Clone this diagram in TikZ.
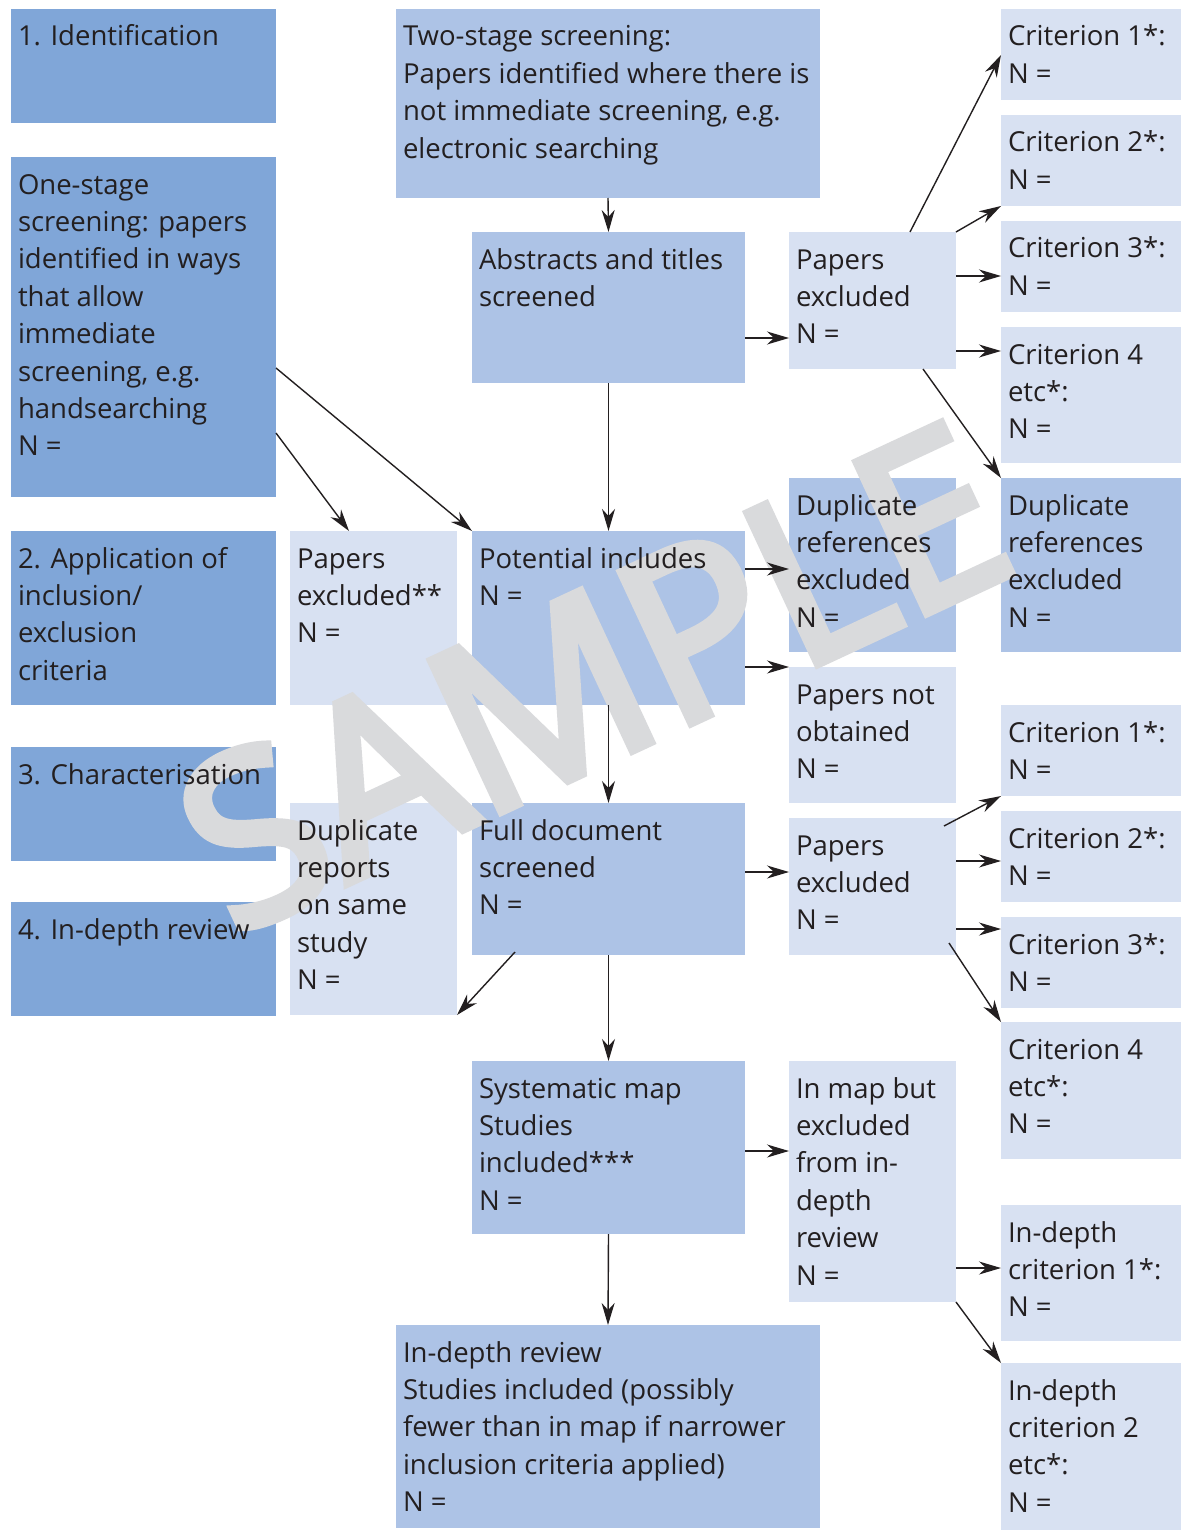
\documentclass[tikz,border=0pt]{standalone}
\usepackage{fontspec}
\setmainfont{Open Sans}
\newfontfamily\wmfont{Open Sans}[FakeBold=4]
\usetikzlibrary{arrows.meta,calc,backgrounds}
\definecolor{dkb}{HTML}{80A6D8}
\definecolor{mdb}{HTML}{ADC3E6}
\definecolor{ltb}{HTML}{D8E1F2}
\definecolor{wmgray}{HTML}{D9DADC}
\definecolor{ink}{HTML}{231F20}
\newcommand{\bxt}[3]{\parbox[c][#2pt][t]{#1pt}{\fontsize{27.5}{37.4}\selectfont\raggedright\leftskip=7pt\rule{0pt}{37pt}#3}}
\tikzset{
  box/.style={anchor=north west, inner sep=0pt, outer sep=0pt, text=ink},
  arr/.style={draw=ink, line width=1.4pt, -{Stealth[length=22pt,width=13pt,inset=7pt]}},
  wmark/.style={text=wmgray, inner sep=0pt, rotate=25, font=\wmfont\fontsize{232}{232}\selectfont}
}
\begin{document}
\begin{tikzpicture}[x=1pt,y=-1pt]
\useasboundingbox (0,0) rectangle (1181,1530);
% left column
\node[box] (id)   at (11,9)    {\bxt{265}{114}{1. Identification}};
\node[box] (one)  at (11,157)  {\bxt{265}{340}{One-stage\\screening: papers\\identified in ways\\that allow\\immediate\\screening, e.g.\\handsearching\\N =}};
\node[box] (app)  at (11,531)  {\bxt{265}{174}{2. Application of\\inclusion/\\exclusion\\criteria}};
\node[box] (chr)  at (11,747)  {\bxt{265}{114}{3. Characterisation}};
\node[box] (idp)  at (11,902)  {\bxt{265}{114}{4. In-depth review}};
% second column
\node[box] (pex)  at (290,531) {\bxt{167}{174}{Papers\\excluded**\\N =}};
\node[box] (drep) at (290,803) {\bxt{167}{212}{Duplicate\\reports\\on same\\study\\N =}};
% middle column
\node[box] (two)  at (396,9)    {\bxt{424}{189}{Two-stage screening:\\Papers identified where there is\\not immediate screening, e.g.\\electronic searching}};
\node[box] (abs)  at (472,232)  {\bxt{273}{151}{Abstracts and titles\\screened}};
\node[box] (pot)  at (472,531)  {\bxt{273}{174}{Potential includes\\N =}};
\node[box] (full) at (472,803)  {\bxt{273}{152}{Full document\\screened\\N =}};
\node[box] (smap) at (472,1061) {\bxt{273}{173}{Systematic map\\Studies\\included***\\N =}};
\node[box] (idr)  at (396,1325) {\bxt{424}{203}{In-depth review\\Studies included (possibly\\fewer than in map if narrower\\inclusion criteria applied)\\N =}};
% fourth column
\node[box] (pe1)   at (789,232)  {\bxt{167}{137}{Papers\\excluded\\N =}};
\node[box] (dup1)  at (789,478)  {\bxt{167}{174}{Duplicate\\references\\excluded\\N =}};
\node[box] (pno)   at (789,667)  {\bxt{167}{136}{Papers not\\obtained\\N =}};
\node[box] (pe3)   at (789,818)  {\bxt{167}{137}{Papers\\excluded\\N =}};
\node[box] (inmap) at (789,1061) {\bxt{167}{241}{In map but\\excluded\\from in-\\depth\\review\\N =}};
% right column
\node[box] (c1)   at (1001,9)    {\bxt{180}{91}{Criterion 1*:\\N =}};
\node[box] (c2)   at (1001,115)  {\bxt{180}{91}{Criterion 2*:\\N =}};
\node[box] (c3)   at (1001,221)  {\bxt{180}{91}{Criterion 3*:\\N =}};
\node[box] (c4)   at (1001,327)  {\bxt{180}{136}{Criterion 4\\etc*:\\N =}};
\node[box] (dup2) at (1001,478)  {\bxt{180}{174}{Duplicate\\references\\excluded\\N =}};
\node[box] (c1b)  at (1001,705)  {\bxt{180}{91}{Criterion 1*:\\N =}};
\node[box] (c2b)  at (1001,811)  {\bxt{180}{91}{Criterion 2*:\\N =}};
\node[box] (c3b)  at (1001,917)  {\bxt{180}{91}{Criterion 3*:\\N =}};
\node[box] (c4b)  at (1001,1022) {\bxt{180}{137}{Criterion 4\\etc*:\\N =}};
\node[box] (idc1) at (1001,1205) {\bxt{180}{136}{In-depth\\criterion 1*:\\N =}};
\node[box] (idc2) at (1001,1363) {\bxt{180}{167}{In-depth\\criterion 2\\etc*:\\N =}};
% fills and watermark behind the text
\begin{scope}[on background layer]
  \fill[white] (0,0) rectangle (1181,1530);
  \foreach \n/\c in {id/dkb,one/dkb,app/dkb,chr/dkb,idp/dkb,pex/ltb,drep/ltb,two/mdb,abs/mdb,pot/mdb,full/mdb,smap/mdb,idr/mdb,pe1/ltb,dup1/mdb,pno/ltb,pe3/ltb,inmap/ltb,c1/ltb,c2/ltb,c3/ltb,c4/ltb,dup2/mdb,c1b/ltb,c2b/ltb,c3b/ltb,c4b/ltb,idc1/ltb,idc2/ltb}
    \fill[\c] (\n.north west) rectangle (\n.south east);
  \node[wmark] (wm) at (593,677) {SAMPLE};
\end{scope}
% connectors
\draw[arr] (two.south) -- (abs.north);
\draw[arr] (abs.south) -- (pot.north);
\draw[arr] ($(one.north east)+(0,211)$) -- (pot.north west);
\draw[arr] ($(one.north east)+(0,276)$) -- ($(pex.north west)+(59,0)$);
\draw[arr] ($(abs.north east)+(0,106)$) -- ($(pe1.north west)+(0,106)$);
\draw[arr] ($(pe1.north west)+(121,0)$) -- ($(c1.north west)+(0,46)$);
\draw[arr] (pe1.north east) -- (c2.south west);
\draw[arr] ($(pe1.north east)+(0,44)$) -- ($(c3.north west)+(0,55)$);
\draw[arr] ($(pe1.north east)+(0,119)$) -- ($(c4.north west)+(0,24)$);
\draw[arr] ($(pe1.south west)+(134,0)$) -- (dup2.north west);
\draw[arr] ($(pot.north east)+(0,38)$) -- ($(dup1.north west)+(0,91)$);
\draw[arr] ($(pot.north east)+(0,136)$) -- (pno.north west);
\draw[arr] (pot.south) -- (full.north);
\draw[arr] ($(full.north east)+(0,69)$) -- ($(pe3.north west)+(0,54)$);
\draw[arr] ($(full.south west)+(43,-3)$) -- (drep.south east);
\draw[arr] (full.south) -- (smap.north);
\draw[arr] ($(pe3.north east)+(-12,8)$) -- (c1b.south west);
\draw[arr] ($(pe3.north east)+(0,43)$) -- ($(c2b.north west)+(0,50)$);
\draw[arr] ($(pe3.north east)+(0,111)$) -- ($(c3b.north west)+(0,12)$);
\draw[arr] ($(pe3.north east)+(-7,125)$) -- (c4b.north west);
\draw[arr] ($(smap.north east)+(0,90)$) -- ($(inmap.north west)+(0,90)$);
\draw[arr] (smap.south) -- (idr.north);
\draw[arr] ($(inmap.north east)+(0,207)$) -- ($(idc1.north west)+(0,63)$);
\draw[arr] (inmap.south east) -- (idc2.north west);
\end{tikzpicture}
\end{document}
